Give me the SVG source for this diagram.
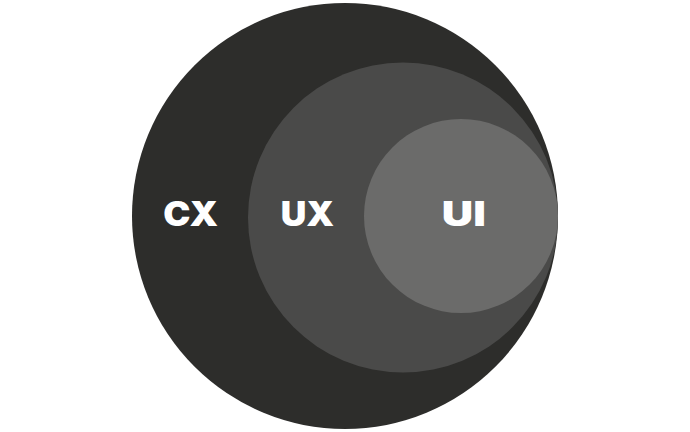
<svg xmlns="http://www.w3.org/2000/svg" width="690" height="432" viewBox="0 0 690 432">
<style>
.lbl{font-family:Inter,"Open Sans","Liberation Sans",sans-serif;font-weight:900;font-size:33.5px;fill:#ffffff;text-anchor:middle}
</style>
<rect width="690" height="432" fill="#ffffff"/>
<g id="cx">
<circle cx="345" cy="216" r="213" fill="#2d2d2b"/>
<text class="lbl" x="190.7" y="226.3" textLength="55" lengthAdjust="spacingAndGlyphs">CX</text>
</g>
<g id="ux">
<circle cx="403" cy="217.5" r="155" fill="#4a4a49"/>
<text class="lbl" x="307.5" y="226.3" textLength="53.5" lengthAdjust="spacingAndGlyphs">UX</text>
</g>
<g id="ui">
<circle cx="461" cy="216" r="97" fill="#6b6b6a"/>
<text class="lbl" x="463.8" y="226.3" textLength="44" lengthAdjust="spacingAndGlyphs">UI</text>
</g>
<g id="connectors"/>
</svg>
